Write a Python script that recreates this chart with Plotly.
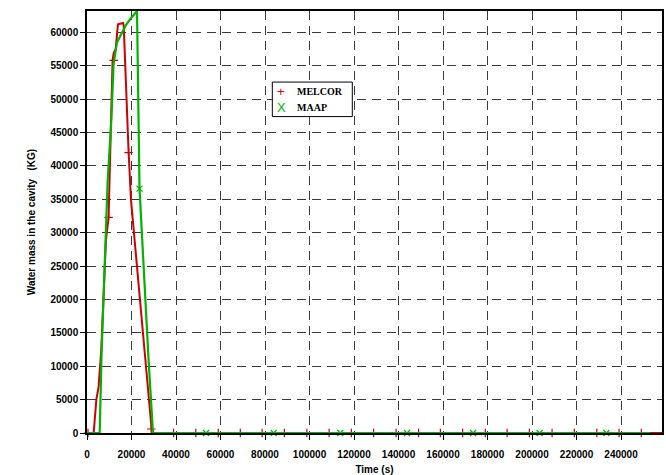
import plotly.graph_objects as go

# MELCOR water mass in the cavity (time in s, mass in kg)
melcor_t = [0, 3000, 4200, 5200, 6400, 7500, 8500, 9700, 10800, 11500, 12000,
            12400, 12900, 13900, 16200, 16500, 17200, 18700, 19800, 21700,
            22500, 25400, 29200, 258400]
melcor_w = [0, 0, 5000, 6900, 12400, 19900, 28800, 32300, 46800, 55800, 56900,
            57300, 57500, 61200, 61400, 61000, 54300, 42000, 34800, 27800,
            24900, 14100, 0, 0]

# MELCOR symbols along the curve
melcor_mark_t = [450, 9700, 12000, 18700, 28900, 38900, 48900, 59000, 68900,
                 78700, 88700, 98800, 108800, 118800, 128800, 138900, 149000,
                 158800, 168800, 179000, 188800, 198800, 209000, 219000,
                 229100, 239100, 249100]
melcor_mark_w = [0, 32300, 55800, 42000, 600] + [0] * 22

# MAAP water mass in the cavity
maap_t = [0, 5700, 6560, 8220, 9260, 10920, 11950, 13480, 15730, 17500, 19460,
          22470, 23600, 25750, 27680, 29660, 253100]
maap_w = [0, 0, 12000, 28800, 37600, 46800, 55300, 58500, 60000, 61100, 62000,
          63200, 36600, 22000, 10900, 0, 0]

# MAAP symbols along the curve
maap_mark_t = [23600, 53500, 83900, 113800, 143800, 173500, 203400, 233400]
maap_mark_w = [36600, 0, 0, 0, 0, 0, 0, 0]

x_ticks = list(range(0, 240001, 20000))
y_ticks = list(range(0, 60001, 5000))

series_names = ["MELCOR", "MAAP"]
series_keys = ["+", "X"]

RED = "#cc0000"
GREEN = "#00b400"
axis_font = dict(family="Liberation Sans, Arial", size=10, color="black",
                 weight="bold")

fig = go.Figure()
fig.add_trace(go.Scatter(x=melcor_t, y=melcor_w, mode="lines",
                         line=dict(color=RED, width=2), showlegend=False,
                         cliponaxis=False, hoverinfo="skip"))
fig.add_trace(go.Scatter(x=melcor_mark_t, y=melcor_mark_w, mode="markers",
                         name=series_names[0], cliponaxis=False,
                         showlegend=False,
                         marker=dict(symbol="cross-thin", size=6,
                                     line=dict(color=RED, width=1.2))))
fig.add_trace(go.Scatter(x=maap_t, y=maap_w, mode="lines",
                         line=dict(color=GREEN, width=2.2), showlegend=False,
                         cliponaxis=False, hoverinfo="skip"))
fig.add_trace(go.Scatter(x=maap_mark_t, y=maap_mark_w, mode="markers",
                         name=series_names[1], cliponaxis=False,
                         showlegend=False,
                         marker=dict(symbol="x-thin", size=6,
                                     line=dict(color=GREEN, width=1.2))))

grid = dict(showgrid=True, gridcolor="#3a3a3a", gridwidth=1, griddash="9px,6px",
            showline=True, linecolor="black", linewidth=1.5, mirror=True,
            ticks="outside", ticklen=5, tickcolor="black", zeroline=False,
            tickfont=axis_font, automargin=False)

fig.update_xaxes(range=[0, 258400], tickvals=x_ticks,
                 ticktext=[str(v) for v in x_ticks],
                 tickangle=0, ticklabelstandoff=6,
                 title=dict(text="Time (s)", font=axis_font, standoff=7), **grid)
fig.update_yaxes(range=[0, 63200], tickvals=y_ticks,
                 ticktext=[str(v) for v in y_ticks],
                 title=dict(text="Water mass in the cavity   (KG)",
                            font=axis_font, standoff=13), **grid)

# Legend box drawn in paper coordinates
fig.add_shape(type="rect", xref="paper", yref="paper",
              x0=0.3223, x1=0.4614, y0=0.7498, y1=0.8316,
              line=dict(color="black", width=1), fillcolor="white", layer="above")
legend_rows_y = [0.8085, 0.7715]
legend_colors = [RED, GREEN]
for name, key, yy, col in zip(series_names, series_keys, legend_rows_y,
                              legend_colors):
    fig.add_annotation(xref="paper", yref="paper", x=0.3379, y=yy, text=key,
                       showarrow=False, xanchor="center", yanchor="middle",
                       font=dict(family="Liberation Sans", size=13, color=col))
    fig.add_annotation(xref="paper", yref="paper", x=0.3623, y=yy, text=name,
                       showarrow=False, xanchor="left", yanchor="middle",
                       font=dict(family="Liberation Serif", size=10,
                                 color="black", weight="bold"))

fig.update_layout(
    width=666, height=475,
    margin=dict(l=87, r=4, t=11, b=42),
    plot_bgcolor="white", paper_bgcolor="white",
    showlegend=False,
)

fig.write_html("out.html")
